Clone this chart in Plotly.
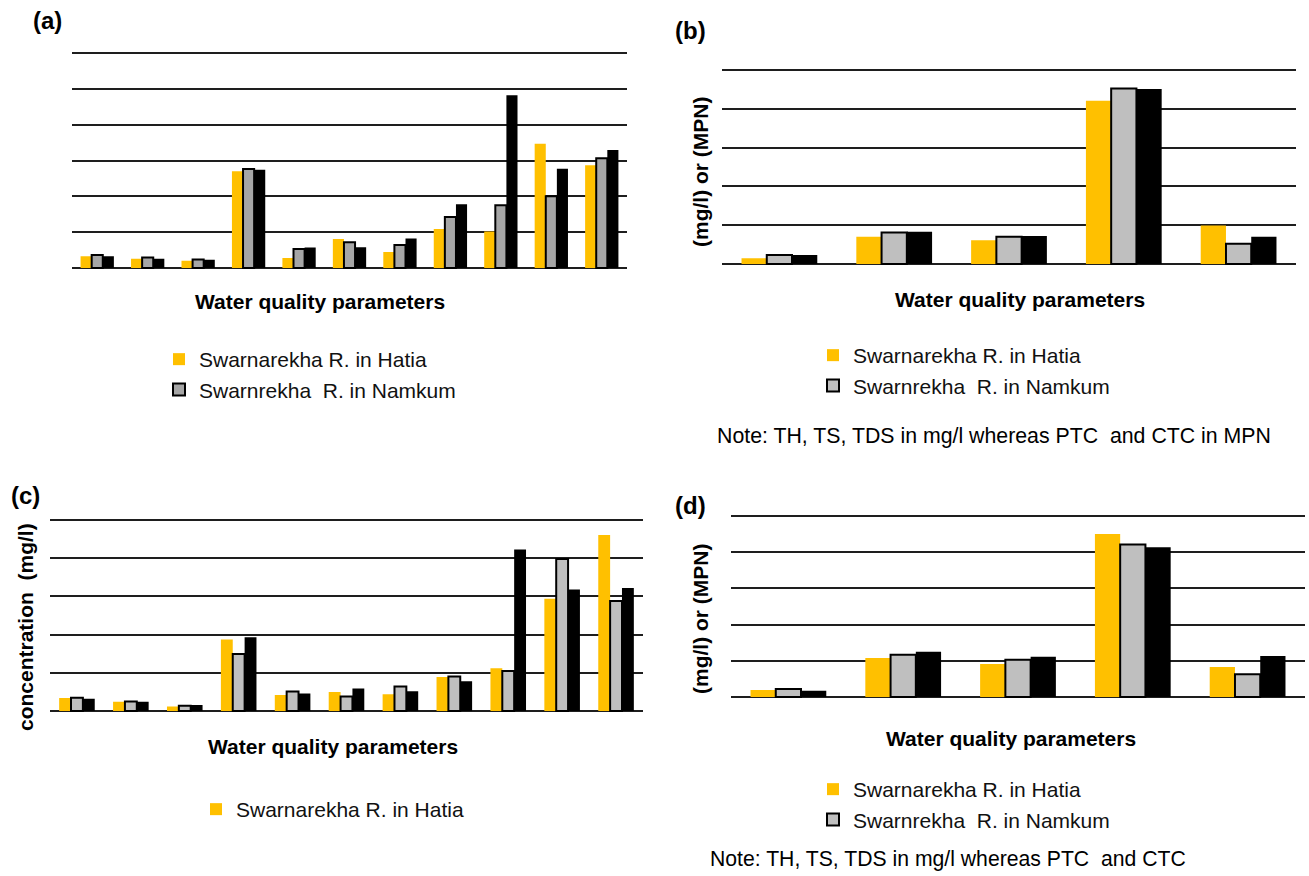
import plotly.graph_objects as go

W, H = 1309, 876

# ---------------- data (in gridline units) ----------------
params_ac = ["P1", "P2", "P3", "P4", "P5", "P6", "P7", "P8", "P9", "P10", "P11"]
params_bd = ["TH", "TS", "TDS", "PTC", "CTC"]

a_hatia = [0.33, 0.26, 0.20, 2.70, 0.28, 0.81, 0.45, 1.09, 1.02, 3.47, 2.87]
a_namkum = [0.36, 0.29, 0.24, 2.76, 0.53, 0.72, 0.64, 1.42, 1.75, 2.00, 3.06]
a_third = [0.33, 0.26, 0.23, 2.74, 0.57, 0.58, 0.82, 1.78, 4.82, 2.77, 3.29]

b_hatia = [0.15, 0.70, 0.61, 4.21, 0.99]
b_namkum = [0.23, 0.81, 0.70, 4.52, 0.52]
b_third = [0.23, 0.83, 0.72, 4.51, 0.70]

c_hatia = [0.34, 0.24, 0.12, 1.87, 0.42, 0.50, 0.44, 0.89, 1.12, 2.94, 4.61]
c_namkum = [0.35, 0.25, 0.14, 1.49, 0.51, 0.38, 0.64, 0.90, 1.05, 3.98, 2.88]
c_third = [0.32, 0.24, 0.16, 1.93, 0.46, 0.59, 0.52, 0.78, 4.23, 3.18, 3.22]

d_hatia = [0.19, 1.08, 0.91, 4.50, 0.83]
d_namkum = [0.22, 1.17, 1.03, 4.21, 0.63]
d_third = [0.17, 1.25, 1.11, 4.14, 1.13]

name_hatia = "Swarnarekha R. in Hatia"
name_namkum = "Swarnrekha  R. in Namkum"
name_third = "Third site"

YELLOW = "#FFC000"
GRAY_A = "#A6A6A6"
GRAY_B = "#BFBFBF"
FONT = "Liberation Sans, Arial, sans-serif"
PAD = 0.06  # range padding (in gridline units) so edge gridlines are drawn


def xd(l, r):
    return [l / W, r / W]


def yd(top_line, bottom_line, n):
    unit = (bottom_line - top_line) / n
    top = top_line - PAD * unit
    bottom = bottom_line + PAD * unit
    return [1 - bottom / H, 1 - top / H]


fig = go.Figure()

panels = [
    ("", params_ac, a_hatia, a_namkum, a_third, GRAY_A, "legend", True),
    ("2", params_bd, b_hatia, b_namkum, b_third, GRAY_B, "legend2", True),
    ("3", params_ac, c_hatia, c_namkum, c_third, GRAY_B, "legend3", False),
    ("4", params_bd, d_hatia, d_namkum, d_third, GRAY_B, "legend4", True),
]

for i, (sfx, cats, h, n, t, gray, leg, show_n) in enumerate(panels):
    xa, ya = "x" + sfx, "y" + sfx
    fig.add_trace(go.Bar(x=cats, y=h, name=name_hatia, xaxis=xa, yaxis=ya,
                         marker=dict(color=YELLOW, line=dict(width=0)),
                         legend=leg, legendgroup=f"h{i}"))
    fig.add_trace(go.Bar(x=cats, y=n, name=name_namkum, xaxis=xa, yaxis=ya,
                         marker=dict(color=gray, line=dict(color="#000000", width=2)),
                         legend=leg, legendgroup=f"n{i}", showlegend=show_n))
    fig.add_trace(go.Bar(x=cats, y=t, name=name_third, xaxis=xa, yaxis=ya,
                         marker=dict(color="#000000", line=dict(width=0)),
                         legend=leg, legendgroup=f"t{i}", showlegend=False))

axis_common = dict(showticklabels=False, ticks="", showline=False, zeroline=False)
yaxis_common = dict(showticklabels=False, ticks="", showline=False, zeroline=False,
                    showgrid=True, gridcolor="#1e1e1e", gridwidth=1.6, dtick=1, tick0=0)

layout_axes = dict(
    xaxis=dict(domain=xd(72, 627), anchor="y", **axis_common),
    yaxis=dict(domain=yd(53, 268, 6), anchor="x", range=[-PAD, 6 + PAD], **yaxis_common),
    xaxis2=dict(domain=xd(722, 1296), anchor="y2", **axis_common),
    yaxis2=dict(domain=yd(70, 264, 5), anchor="x2", range=[-PAD, 5 + PAD], **yaxis_common),
    xaxis3=dict(domain=xd(50, 643), anchor="y3", **axis_common),
    yaxis3=dict(domain=yd(520, 711, 5), anchor="x3", range=[-PAD, 5 + PAD], **yaxis_common),
    xaxis4=dict(domain=xd(731, 1305), anchor="y4", **axis_common),
    yaxis4=dict(domain=yd(516, 697, 5), anchor="x4", range=[-PAD, 5 + PAD], **yaxis_common),
)

leg_common = dict(font=dict(family=FONT, size=21, color="#111"), bgcolor="rgba(0,0,0,0)",
                  borderwidth=0, xanchor="left", yanchor="top", traceorder="normal")

fig.update_layout(
    width=W, height=H, autosize=False,
    margin=dict(l=0, r=0, t=0, b=0),
    paper_bgcolor="white", plot_bgcolor="white",
    barmode="group", bargap=0.34, bargroupgap=0,
    font=dict(family=FONT, color="#000"),
    legend=dict(x=159 / W, y=1 - 339 / H, tracegroupgap=13, **leg_common),
    legend2=dict(x=813 / W, y=1 - 335 / H, tracegroupgap=15, **leg_common),
    legend3=dict(x=196 / W, y=1 - 789 / H, tracegroupgap=10, **leg_common),
    legend4=dict(x=813 / W, y=1 - 769 / H, tracegroupgap=11, **leg_common),
    **layout_axes,
)


def ann(text, x, y, size, bold=False, angle=0, xanchor="center"):
    fig.add_annotation(
        text=f"<b>{text}</b>" if bold else text,
        x=x / W, y=1 - y / H, xref="paper", yref="paper",
        showarrow=False, textangle=angle, xanchor=xanchor, yanchor="middle",
        font=dict(family=FONT, size=size, color="#000"))


# panel labels
ann("(a)", 47, 21, 24, bold=True)
ann("(b)", 690, 31, 24, bold=True)
ann("(c)", 25, 495, 24, bold=True)
ann("(d)", 690, 505, 24, bold=True)

# x titles
ann("Water quality parameters", 320, 301, 21, bold=True)
ann("Water quality parameters", 1020, 299, 21, bold=True)
ann("Water quality parameters", 333, 746, 21, bold=True)
ann("Water quality parameters", 1011, 738, 21, bold=True)

# y titles
ann("(mg/l) or (MPN)", 700, 172, 21, bold=True, angle=-90)
ann("concentration  (mg/l)", 25, 627, 21, bold=True, angle=-90)
ann("(mg/l) or (MPN)", 700, 619, 21, bold=True, angle=-90)

# notes
ann("Note: TH, TS, TDS in mg/l whereas PTC  and CTC in MPN", 994, 436, 21.3)
ann("Note: TH, TS, TDS in mg/l whereas PTC  and CTC", 708, 859, 21.2, xanchor="left")

fig.write_html("out.html", config={"displayModeBar": False},
               post_script="document.body.style.margin='0';")
